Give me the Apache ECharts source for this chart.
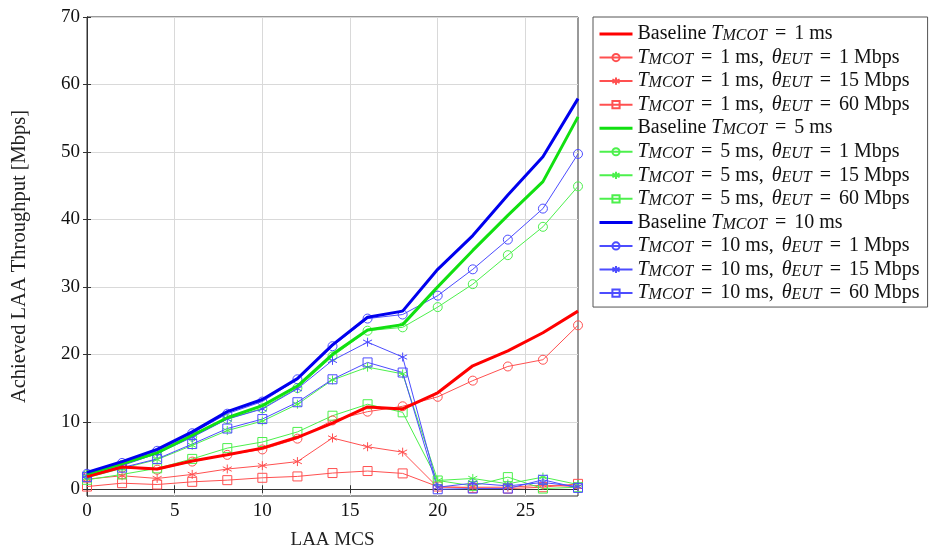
<!DOCTYPE html>
<html>
<head>
<meta charset="utf-8">
<script src="https://cdn.jsdelivr.net/npm/echarts@6/dist/echarts.min.js"></script>
<style>html,body{margin:0;padding:0;background:#fff}#c{width:930px;height:555px}</style>
</head>
<body>
<div id="c"></div>
<script>
// ---- data ----
const mcs = [0, 2, 4, 6, 8, 10, 12, 14, 16, 18, 20, 22, 24, 26, 28];
const xTicks = [0, 5, 10, 15, 20, 25];
const yTicks = [0, 10, 20, 30, 40, 50, 60, 70];

const base1   = [1.9, 3.3, 3.0, 4.2, 5.1, 6.1, 7.7, 9.8, 12.2, 11.9, 14.3, 18.3, 20.5, 23.2, 26.4];
const t1_e1   = [1.8, 3.2, 2.9, 4.1, 5.1, 5.9, 7.5, 10.2, 11.5, 12.3, 13.7, 16.1, 18.2, 19.2, 24.3];
const t1_e15  = [1.5, 2.0, 1.6, 2.2, 3.0, 3.5, 4.1, 7.6, 6.3, 5.5, 0.3, 0.3, 0.3, 0.6, 0.4];
const t1_e60  = [0.4, 0.9, 0.7, 1.1, 1.35, 1.7, 1.9, 2.4, 2.7, 2.35, 0.4, 0.2, 0.1, 0.3, 0.8];

const base5   = [2.3, 3.8, 5.4, 8.0, 10.6, 12.4, 15.3, 20.0, 23.6, 24.4, 30.0, 35.4, 40.6, 45.6, 55.2];
const t5_e1   = [2.1, 3.6, 5.3, 7.8, 10.4, 12.0, 15.0, 19.7, 23.5, 24.0, 27.0, 30.4, 34.7, 38.9, 44.9];
const t5_e15  = [1.7, 3.1, 4.4, 6.5, 8.7, 10.1, 12.6, 16.2, 18.1, 17.1, 1.3, 1.6, 0.8, 1.8, 0.7];
const t5_e60  = [1.4, 2.2, 3.1, 4.5, 6.1, 7.0, 8.5, 10.9, 12.6, 11.4, 1.3, 0.5, 1.8, 0.1, 0.3];

const base10  = [2.5, 4.1, 5.9, 8.5, 11.5, 13.3, 16.4, 21.4, 25.5, 26.4, 32.6, 37.6, 43.6, 49.3, 57.9];
const t10_e1  = [2.3, 3.9, 5.7, 8.3, 11.2, 13.0, 16.3, 21.2, 25.3, 25.9, 28.7, 32.6, 37.0, 41.6, 49.7];
const t10_e15 = [2.0, 3.5, 5.3, 7.7, 10.4, 11.9, 14.9, 19.1, 21.8, 19.6, 0.3, 0.9, 0.5, 1.0, 0.4];
const t10_e60 = [1.8, 3.2, 4.5, 6.7, 9.0, 10.4, 12.9, 16.3, 18.8, 17.3, 0.0, 0.1, 0.1, 1.4, 0.2];

const xName = 'LAA MCS';
const yName = 'Achieved LAA Throughput [Mbps]';

// ---- styling ----
const FONT = 'Liberation Serif';
const STRONG = {r: '#ff0000', g: '#11e011', b: '#0000ee'};
const LIGHT = {r: '#ff5050', g: '#4cf04c', b: '#4c4cff'};
const ASTER = 'path://M0,-5L0,5M-4.33,-2.5L4.33,2.5M-4.33,2.5L4.33,-2.5';

function pair(x, y) { return x.map((v, i) => [v, y[i]]); }

function baseSeries(name, col, data) {
  return {
    name: name, type: 'line', data: pair(mcs, data), showSymbol: false, symbol: 'none',
    lineStyle: {color: STRONG[col], width: 3}, itemStyle: {color: STRONG[col]},
    z: 3, animation: false
  };
}
function markSeries(name, col, sym, data) {
  return {
    name: name, type: 'line', data: pair(mcs, data), symbol: sym, symbolSize: 9,
    lineStyle: {color: LIGHT[col], width: 1},
    itemStyle: {color: 'none', borderColor: LIGHT[col], borderWidth: 1},
    z: 2, animation: false
  };
}

const labels = {
  b1: '{n|Baseline }{i|T}{s|MCOT}{e|=}{n|1 ms}',
  r1: '{i|T}{s|MCOT}{e|=}{c|1 ms,}{i|θ}{s|EUT}{e|=}{n|1 Mbps}',
  r15: '{i|T}{s|MCOT}{e|=}{c|1 ms,}{i|θ}{s|EUT}{e|=}{n|15 Mbps}',
  r60: '{i|T}{s|MCOT}{e|=}{c|1 ms,}{i|θ}{s|EUT}{e|=}{n|60 Mbps}',
  b5: '{n|Baseline }{i|T}{s|MCOT}{e|=}{n|5 ms}',
  g1: '{i|T}{s|MCOT}{e|=}{c|5 ms,}{i|θ}{s|EUT}{e|=}{n|1 Mbps}',
  g15: '{i|T}{s|MCOT}{e|=}{c|5 ms,}{i|θ}{s|EUT}{e|=}{n|15 Mbps}',
  g60: '{i|T}{s|MCOT}{e|=}{c|5 ms,}{i|θ}{s|EUT}{e|=}{n|60 Mbps}',
  b10: '{n|Baseline }{i|T}{s|MCOT}{e|=}{n|10 ms}',
  u1: '{i|T}{s|MCOT}{e|=}{c|10 ms,}{i|θ}{s|EUT}{e|=}{n|1 Mbps}',
  u15: '{i|T}{s|MCOT}{e|=}{c|10 ms,}{i|θ}{s|EUT}{e|=}{n|15 Mbps}',
  u60: '{i|T}{s|MCOT}{e|=}{c|10 ms,}{i|θ}{s|EUT}{e|=}{n|60 Mbps}'
};

const series = [
  baseSeries('b1', 'r', base1),
  markSeries('r1', 'r', 'circle', t1_e1),
  markSeries('r15', 'r', ASTER, t1_e15),
  markSeries('r60', 'r', 'rect', t1_e60),
  baseSeries('b5', 'g', base5),
  markSeries('g1', 'g', 'circle', t5_e1),
  markSeries('g15', 'g', ASTER, t5_e15),
  markSeries('g60', 'g', 'rect', t5_e60),
  baseSeries('b10', 'b', base10),
  markSeries('u1', 'b', 'circle', t10_e1),
  markSeries('u15', 'b', ASTER, t10_e15),
  markSeries('u60', 'b', 'rect', t10_e60)
];

const legendData = series.map(s => s.symbol === 'none'
  ? {name: s.name, lineStyle: {width: 3, color: s.lineStyle.color},
     itemStyle: {color: 'rgba(0,0,0,0)', borderColor: 'rgba(0,0,0,0)', borderWidth: 0}}
  : {name: s.name});

const axisLineStyle = {show: true, lineStyle: {color: '#333', width: 1}};
const gridLine = {show: true, lineStyle: {color: '#d9d9d9', width: 1}};

const chart = echarts.init(document.getElementById('c'), null, {renderer: 'canvas'});
chart.setOption({
  animation: false,
  backgroundColor: '#fff',
  grid: {left: 87, right: 352, top: 17, bottom: 58, show: true, borderColor: '#333', borderWidth: 1, backgroundColor: 'transparent'},
  xAxis: [{
    type: 'value', min: 0, max: 28,
    name: xName, nameLocation: 'middle', nameGap: 35,
    nameTextStyle: {fontFamily: FONT, fontSize: 19, color: '#222'},
    axisLine: axisLineStyle,
    axisTick: {show: true, inside: true, length: 4, customValues: xTicks, lineStyle: {color: '#333'}},
    axisLabel: {customValues: xTicks, fontFamily: FONT, fontSize: 19, color: '#111', margin: 6},
    splitLine: gridLine
  }, {
    type: 'value', min: 0, max: 28, position: 'top',
    axisLine: axisLineStyle,
    axisTick: {show: true, inside: true, length: 4, customValues: xTicks, lineStyle: {color: '#333'}},
    axisLabel: {show: false}, splitLine: {show: false}
  }],
  yAxis: [{
    type: 'value', min: -1, max: 70,
    name: yName, nameLocation: 'middle', nameGap: 57,
    nameTextStyle: {fontFamily: FONT, fontSize: 20.5, color: '#222'},
    axisLine: axisLineStyle,
    axisTick: {show: true, inside: true, length: 4, customValues: yTicks, lineStyle: {color: '#333'}},
    axisLabel: {customValues: yTicks, fontFamily: FONT, fontSize: 19, color: '#111', margin: 7},
    splitLine: gridLine
  }, {
    type: 'value', min: -1, max: 70, position: 'right',
    axisLine: axisLineStyle,
    axisTick: {show: true, inside: true, length: 4, customValues: yTicks, lineStyle: {color: '#333'}},
    axisLabel: {show: false}, splitLine: {show: false}
  }],
  legend: {
    orient: 'vertical', left: 593, top: 17,
    padding: [7, 8, 4, 5],
    itemWidth: 33, itemHeight: 9, itemGap: 3.55,
    backgroundColor: '#fff', borderColor: '#555', borderWidth: 1,
    selectedMode: false,
    data: legendData,
    formatter: n => labels[n],
    textStyle: {
      fontFamily: FONT, fontSize: 20, color: '#111', lineHeight: 20,
      rich: {
        n: {fontFamily: FONT, fontSize: 20, lineHeight: 20, color: '#111', verticalAlign: 'middle'},
        c: {fontFamily: FONT, fontSize: 20, lineHeight: 20, color: '#111', verticalAlign: 'middle', padding: [0, 8, 0, 0]},
        e: {fontFamily: FONT, fontSize: 20, lineHeight: 20, color: '#111', verticalAlign: 'middle', padding: [0, 8, 0, 8]},
        i: {fontFamily: FONT, fontSize: 20, fontStyle: 'italic', lineHeight: 20, color: '#111', verticalAlign: 'middle'},
        s: {fontFamily: FONT, fontSize: 16, fontStyle: 'italic', lineHeight: 11, color: '#111', verticalAlign: 'bottom'}
      }
    }
  },
  series: series
});
</script>
</body>
</html>
